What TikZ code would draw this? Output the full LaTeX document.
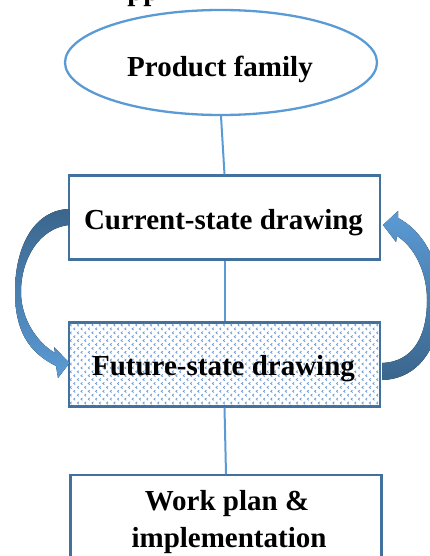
\documentclass[tikz,border=0pt]{standalone}
\usepackage{fontspec}
\setmainfont{Liberation Serif}
\usetikzlibrary{shapes.geometric}
\definecolor{edgeblue}{HTML}{41719C}
\definecolor{lineblue}{HTML}{5B9BD5}
\definecolor{dotblue}{HTML}{6F9DD6}
\begin{document}
\begin{tikzpicture}[x=1pt,y=-1pt,
  stepbox/.style={draw=edgeblue, line width=2.3pt, rectangle, inner sep=0pt,
    minimum width=311pt, minimum height=84pt},
  famshape/.style={draw=lineblue, line width=2.3pt, ellipse, inner sep=0pt,
    minimum width=312pt, minimum height=105pt},
  boxtext/.style={font=\fontsize{29}{35}\selectfont\bfseries, inner sep=0pt, anchor=base},
  conn/.style={draw=lineblue, line width=2pt},
  dotmark/.style={draw=dotblue, line width=0.8pt}]
\useasboundingbox (0,0) rectangle (430,556);
\clip (0,0) rectangle (430,556);

% lower edge of the heading line above the chart
\node[boxtext] (heading) at (143.5,0.8) {pp};

% shapes
\node[famshape] (family) at (221,62.5) {};
\node[stepbox] (current) at (224.5,217.5) {};
\node[stepbox] (future) at (224.5,364.5) {};
\node[stepbox, minimum height=120pt, anchor=north] (work) at (226,474) {};

% dotted fill of the future-state box
\begin{scope}
  \clip (70.2,323.4) rectangle (378.8,405.6);
  \foreach \j in {0,...,21} {
    \foreach \i in {0,...,43} {
      \pgfmathsetmacro\xx{70+7.3*\i+3.65*mod(\j,2)}
      \pgfmathsetmacro\yy{325+3.9*\j}
      \draw[dotmark] (\xx+1.5,\yy-1.2) -- (\xx,\yy) -- (\xx+1.5,\yy+1.2);
    }
  }
\end{scope}

% labels
\node[boxtext] (familytext) at (220,77) {Product family};
\node[boxtext] (currenttext) at (223.5,229) {Current-state drawing};
\node[boxtext] (futuretext) at (223.5,375) {Future-state drawing};
\node[boxtext] (worktext1) at (227,510) {Work plan \&};
\node[boxtext] (worktext2) at (229,547) {implementation};

% connectors
\draw[conn] (family.south) -- (current.north);
\draw[conn] (current.south) -- (future.north);
\draw[conn] (future.south) -- (work.north);

% curved arrow from current state down to future state
\fill[top color=edgeblue!90!black, bottom color=lineblue]
  (69,209) .. controls (35,210) and (15,245) .. (15,292)
  .. controls (15,330) and (28,352) .. (56,366)
  -- (58,378) -- (69.5,363) -- (54,347) -- (55,353)
  .. controls (38,343) and (21,320) .. (21,292)
  .. controls (21,258) and (40,228) .. (69,225) -- cycle;

% curved arrow from future state back up to current state
\fill[top color=lineblue, bottom color=edgeblue!90!black]
  (382,380) .. controls (420,379) and (441,345) .. (441,300)
  .. controls (441,262) and (422,230) .. (398,218)
  -- (398,211) -- (383,225) -- (396,242) -- (397,236)
  .. controls (413,246) and (427,270) .. (427,300)
  .. controls (427,338) and (412,362) .. (382,363) -- cycle;
\end{tikzpicture}
\end{document}
